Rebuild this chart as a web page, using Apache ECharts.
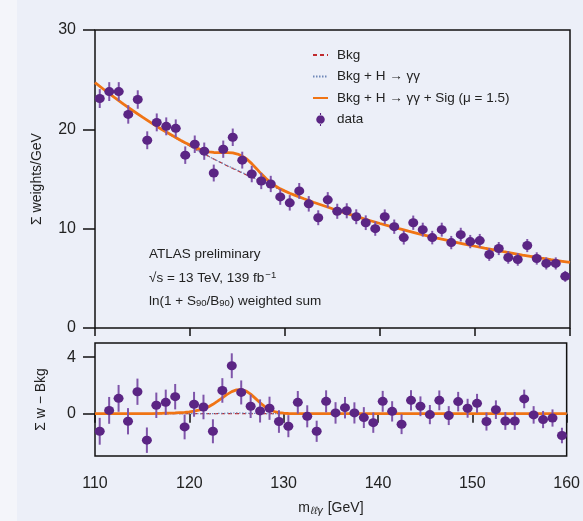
<!DOCTYPE html>
<html>
<head>
<meta charset="utf-8">
<script src="https://cdn.jsdelivr.net/npm/echarts@6/dist/echarts.min.js"></script>
<style>
  html, body { margin: 0; padding: 0; background: #eceff8; }
  #chart { width: 583px; height: 521px; }
</style>
</head>
<body>
<div id="chart"></div>
<script>
// bin centres [GeV]
const massBins = [110.5, 111.5, 112.5, 113.5, 114.5, 115.5, 116.5, 117.5, 118.5, 119.5,
  120.5, 121.5, 122.5, 123.5, 124.5, 125.5, 126.5, 127.5, 128.5, 129.5,
  130.5, 131.5, 132.5, 133.5, 134.5, 135.5, 136.5, 137.5, 138.5, 139.5,
  140.5, 141.5, 142.5, 143.5, 144.5, 145.5, 146.5, 147.5, 148.5, 149.5,
  150.5, 151.5, 152.5, 153.5, 154.5, 155.5, 156.5, 157.5, 158.5, 159.5];

// weighted data, sum w / GeV
const dataW = [23.1, 23.8, 23.8, 21.5, 23.0, 18.9, 20.7, 20.3, 20.1, 17.4,
  18.5, 17.8, 15.6, 18.0, 19.2, 16.9, 15.5, 14.8, 14.5, 13.2,
  12.6, 13.8, 12.5, 11.1, 12.9, 11.75, 11.8, 11.2, 10.6, 10.0,
  11.2, 10.2, 9.1, 10.6, 9.9, 9.1, 9.9, 8.6, 9.4, 8.7,
  8.8, 7.4, 8.0, 7.1, 6.9, 8.3, 7.0, 6.5, 6.5, 5.2];

// data minus background
const resid = [-1.25, 0.23, 1.08, -0.54, 1.55, -1.88, 0.59, 0.8, 1.2, -0.94,
  0.66, 0.47, -1.25, 1.64, 3.39, 1.5, 0.52, 0.19, 0.38, -0.56,
  -0.89, 0.8, -0.19, -1.25, 0.87, 0.05, 0.42, 0.05, -0.28, -0.64,
  0.87, 0.16, -0.75, 0.94, 0.52, -0.07, 0.94, -0.14, 0.85, 0.38,
  0.73, -0.56, 0.28, -0.52, -0.52, 1.04, -0.09, -0.42, -0.31, -1.55];

// error bar half lengths
const errW = [0.95, 0.95, 0.95, 0.93, 0.93, 0.9, 0.9, 0.9, 0.9, 0.88,
  0.88, 0.87, 0.85, 0.87, 0.88, 0.85, 0.83, 0.82, 0.82, 0.8,
  0.78, 0.8, 0.78, 0.75, 0.78, 0.76, 0.76, 0.75, 0.74, 0.72,
  0.74, 0.72, 0.7, 0.72, 0.7, 0.68, 0.7, 0.67, 0.69, 0.67,
  0.67, 0.64, 0.66, 0.63, 0.63, 0.66, 0.62, 0.61, 0.61, 0.55];

// fit curves, sampled
const curveM = [110, 111, 112, 113, 114, 115, 116,
  117, 117.5, 118, 118.5, 119, 119.5, 120, 120.5, 121, 121.5, 122, 122.5, 123, 123.5,
  124, 124.5, 125, 125.5, 126, 126.5, 127, 127.5, 128, 128.5, 129, 129.5, 130, 130.5, 131,
  132, 133, 134, 135, 136, 137, 138, 139, 140, 141, 142, 143, 144, 145, 146,
  147, 148, 149, 150, 151, 152, 153, 154, 155, 156, 157, 158, 159, 160];

const bkgCurve = [24.70, 23.96, 23.24, 22.54, 21.87, 21.23, 20.60,
  19.99, 19.70, 19.41, 19.12, 18.84, 18.57, 18.30, 18.03, 17.77, 17.51, 17.26, 17.01, 16.77, 16.53,
  16.29, 16.06, 15.83, 15.61, 15.39, 15.17, 14.96, 14.75, 14.54, 14.34, 14.14, 13.94, 13.75, 13.56, 13.38,
  13.01, 12.66, 12.33, 12.00, 11.68, 11.38, 11.08, 10.80, 10.52, 10.26, 10.00, 9.75, 9.51, 9.28, 9.05,
  8.84, 8.63, 8.42, 8.23, 8.04, 7.86, 7.68, 7.51, 7.34, 7.19, 7.03, 6.88, 6.74, 6.60];

const smHiggs = [0, 0, 0, 0, 0, 0, 0,
  0, 0, 0, 0, 0, 0, 0, 0, 0, 0, 0, 0, 0.01, 0.02,
  0.03, 0.04, 0.05, 0.04, 0.03, 0.02, 0.01, 0, 0, 0, 0, 0, 0, 0, 0,
  0, 0, 0, 0, 0, 0, 0, 0, 0, 0, 0, 0, 0, 0, 0,
  0, 0, 0, 0, 0, 0, 0, 0, 0, 0, 0, 0, 0, 0];

const sigCurve = [0, 0, 0, 0, 0, 0, 0,
  0.02, 0.03, 0.04, 0.05, 0.07, 0.09, 0.12, 0.17, 0.24, 0.33, 0.47, 0.66, 0.87, 1.10,
  1.33, 1.52, 1.63, 1.66, 1.57, 1.36, 1.07, 0.77, 0.50, 0.29, 0.15, 0.07, 0.03, 0.01, 0,
  0, 0, 0, 0, 0, 0, 0, 0, 0, 0, 0, 0, 0, 0, 0,
  0, 0, 0, 0, 0, 0, 0, 0, 0, 0, 0, 0, 0, 0];

const names = ['Bkg', 'Bkg + H \u2192 \u03b3\u03b3', 'Bkg + H \u2192 \u03b3\u03b3 + Sig (\u03bc = 1.5)', 'data'];

const purple = '#5b2584';
const barPurple = '#7f55aa';
const orange = '#f07414';
const red = '#c02a2e';
const blue = '#6f88b8';
const font = 'Liberation Sans, Arial, sans-serif';

function errRender(params, api) {
  const x = api.value(0), y = api.value(1), e = api.value(2);
  const a = api.coord([x, y - e]);
  const b = api.coord([x, y + e]);
  return {
    type: 'line',
    shape: {x1: a[0], y1: a[1], x2: b[0], y2: b[1]},
    style: {stroke: barPurple, lineWidth: 2}
  };
}

const bkgTop = curveM.map((m, i) => [m, bkgCurve[i]]);
const bkgHTop = curveM.map((m, i) => [m, bkgCurve[i] + smHiggs[i]]);
const sigTop = curveM.map((m, i) => [m, bkgCurve[i] + smHiggs[i] + sigCurve[i]]);
const bkgBot = curveM.map((m) => [m, 0]);
const bkgHBot = curveM.map((m, i) => [m, smHiggs[i]]);
const sigBot = curveM.map((m, i) => [m, smHiggs[i] + sigCurve[i]]);
const ptsTop = massBins.map((m, i) => [m, dataW[i], errW[i]]);
const ptsBot = massBins.map((m, i) => [m, resid[i], errW[i]]);

const tickStyle = {show: true, inside: false, length: 8, lineStyle: {color: '#111', width: 1.5}};
const labelStyle = {color: '#222', fontSize: 16, fontFamily: font};
// dot with a short error bar for the legend
const dataIcon = 'path://M4.4,0H5.6V3H4.4Z M4.4,11H5.6V14H4.4Z M0.4,7A4.6,4.6,0,1,0,9.6,7A4.6,4.6,0,1,0,0.4,7Z';

const myChart = echarts.init(document.getElementById('chart'));
const option = {
  backgroundColor: '#eceff8',
  animation: false,
  textStyle: {fontFamily: font},
  grid: [
    {left: 95, top: 30, width: 475, height: 298, show: true, borderColor: '#111', borderWidth: 1.5, backgroundColor: 'transparent'},
    {left: 95, top: 343, width: 475, height: 113, show: true, borderColor: '#111', borderWidth: 1.5, backgroundColor: 'transparent'}
  ],
  legend: {
    orient: 'vertical',
    left: 307,
    top: 42,
    itemWidth: 15,
    itemHeight: 13,
    itemGap: 5.5,
    data: [
      {name: names[0], itemStyle: {opacity: 0}},
      {name: names[1], itemStyle: {opacity: 0}},
      {name: names[2], itemStyle: {opacity: 0}},
      {name: names[3], icon: dataIcon}
    ],
    textStyle: {fontSize: 13.5, color: '#222', fontFamily: font, lineHeight: 16, padding: [0, 0, 0, 4]}
  },
  xAxis: [
    {type: 'value', gridIndex: 0, min: 110, max: 160, interval: 10,
      axisLine: {show: false}, axisTick: tickStyle, axisLabel: {show: false}, splitLine: {show: false}},
    {type: 'value', gridIndex: 1, min: 110, max: 160, interval: 10,
      axisLine: {show: false}, axisTick: Object.assign({}, tickStyle, {length: 9}),
      axisLabel: Object.assign({margin: 20}, labelStyle), splitLine: {show: false},
      name: 'm{sub|\u2113\u2113\u03b3} [GeV]', nameLocation: 'middle', nameGap: 44,
      nameTextStyle: {fontSize: 14, color: '#222', fontFamily: font,
        rich: {sub: {fontSize: 10.5, fontStyle: 'italic', verticalAlign: 'bottom', padding: [6, 1, 0, 1], color: '#222'}}}}
  ],
  yAxis: [
    {type: 'value', gridIndex: 0, min: 0, max: 30, interval: 10,
      axisLine: {show: false}, axisTick: Object.assign({}, tickStyle, {length: 12}),
      axisLabel: Object.assign({margin: 19}, labelStyle), splitLine: {show: false},
      name: '\u03a3 weights/GeV', nameLocation: 'middle', nameGap: 51,
      nameTextStyle: {fontSize: 14, color: '#222', fontFamily: font}},
    {type: 'value', gridIndex: 1, min: -3, max: 5,
      axisLine: {show: false},
      axisTick: Object.assign({}, tickStyle, {length: 12, customValues: [0, 4]}),
      axisLabel: Object.assign({margin: 19, customValues: [0, 4]}, labelStyle), splitLine: {show: false},
      name: '\u03a3 w \u2212 Bkg', nameLocation: 'middle', nameGap: 47,
      nameTextStyle: {fontSize: 14, color: '#222', fontFamily: font}}
  ],
  graphic: [
    {type: 'rect', left: 0, top: 0, shape: {width: 17, height: 521}, style: {fill: '#f4f5fa'}, z: -10, silent: true},
    {type: 'text', left: 149, top: 247, style: {text: 'ATLAS preliminary', fontSize: 13.5, fontFamily: font, fill: '#222'}},
    {type: 'text', left: 149, top: 270, style: {
      text: '\u221as = 13 TeV, 139 fb{sup|\u22121}', fontSize: 13.5, fontFamily: font, fill: '#222',
      rich: {sup: {fontSize: 9.5, verticalAlign: 'top', padding: [0, 0, 6, 1], fontFamily: font, fill: '#222'}}}},
    {type: 'text', left: 149, top: 294, style: {
      text: 'ln(1 + S{sub|90}/B{sub|90}) weighted sum', fontSize: 13.5, fontFamily: font, fill: '#222',
      rich: {sub: {fontSize: 9.5, verticalAlign: 'bottom', padding: [5, 0, 0, 0], fontFamily: font, fill: '#222'}}}}
  ],
  series: [
    {name: names[0], type: 'line', xAxisIndex: 0, yAxisIndex: 0, data: bkgTop, symbol: 'none',
      lineStyle: {color: red, width: 1.2, type: [4, 3]}, itemStyle: {color: red}, z: 2},
    {name: names[1], type: 'line', xAxisIndex: 0, yAxisIndex: 0, data: bkgHTop, symbol: 'none',
      lineStyle: {color: blue, width: 1.2, type: [1.5, 1.5]}, itemStyle: {color: blue}, z: 2},
    {name: names[2], type: 'line', xAxisIndex: 0, yAxisIndex: 0, data: sigTop, symbol: 'none',
      lineStyle: {color: orange, width: 2.8}, itemStyle: {color: orange}, z: 3},
    {name: names[3], type: 'scatter', xAxisIndex: 0, yAxisIndex: 0, data: ptsTop, symbol: 'circle',
      symbolSize: [10, 9], itemStyle: {color: purple, opacity: 1}, z: 5},
    {name: names[3], type: 'custom', xAxisIndex: 0, yAxisIndex: 0, data: ptsTop, renderItem: errRender,
      encode: {x: 0, y: 1}, z: 4},

    {name: names[0], type: 'line', xAxisIndex: 1, yAxisIndex: 1, data: bkgBot, symbol: 'none',
      lineStyle: {color: red, width: 1.2, type: [4, 3]}, itemStyle: {color: red}, z: 2},
    {name: names[1], type: 'line', xAxisIndex: 1, yAxisIndex: 1, data: bkgHBot, symbol: 'none',
      lineStyle: {color: blue, width: 1.2, type: [1.5, 1.5]}, itemStyle: {color: blue}, z: 2},
    {name: names[2], type: 'line', xAxisIndex: 1, yAxisIndex: 1, data: sigBot, symbol: 'none',
      lineStyle: {color: orange, width: 2.8}, itemStyle: {color: orange}, z: 3},
    {name: names[3], type: 'scatter', xAxisIndex: 1, yAxisIndex: 1, data: ptsBot, symbol: 'circle',
      symbolSize: [10, 9], itemStyle: {color: purple, opacity: 1}, z: 5},
    {name: names[3], type: 'custom', xAxisIndex: 1, yAxisIndex: 1, data: ptsBot, renderItem: errRender,
      encode: {x: 0, y: 1}, z: 4}
  ]
};

myChart.setOption(option);
</script>
</body>
</html>
